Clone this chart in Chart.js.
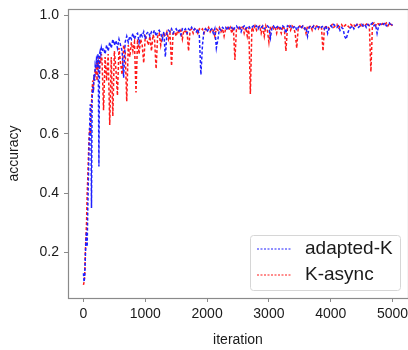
<!DOCTYPE html>
<html>
<head>
<meta charset="utf-8">
<script src="https://cdn.jsdelivr.net/npm/chart.js@4/dist/chart.umd.min.js"></script>
<style>
  html, body { margin: 0; padding: 0; background: #fff; }
  #wrap { width: 408px; height: 350px; }
</style>
</head>
<body>
<div id="wrap"><canvas id="chart"></canvas></div>
<script>
// Accuracy vs iteration

const iterations = [
    0, 10, 20, 30, 40, 50, 60, 70, 80, 90, 100, 110, 120, 130, 140, 150, 160, 170, 180, 190, 200, 210, 220, 230, 240, 250, 260, 270, 280, 290, 300,
    325, 350, 375, 400, 425, 450, 475, 500, 525, 550, 575, 600, 625, 650, 675, 700, 725, 750, 775, 800,
    825, 850, 875, 900, 925, 950, 975, 1000, 1025, 1050, 1075, 1100, 1125, 1150, 1175, 1200, 1225, 1250, 1275, 1300,
    1325, 1350, 1375, 1400, 1425, 1450, 1475, 1500, 1525, 1550, 1575, 1600, 1625, 1650, 1675, 1700, 1725, 1750, 1775, 1800,
    1825, 1850, 1875, 1900, 1925, 1950, 1975, 2000, 2025, 2050, 2075, 2100, 2125, 2150, 2175, 2200, 2225, 2250, 2275, 2300,
    2325, 2350, 2375, 2400, 2425, 2450, 2475, 2500, 2525, 2550, 2575, 2600, 2625, 2650, 2675, 2700, 2725, 2750, 2775, 2800,
    2825, 2850, 2875, 2900, 2925, 2950, 2975, 3000, 3025, 3050, 3075, 3100, 3125, 3150, 3175, 3200, 3225, 3250, 3275, 3300,
    3325, 3350, 3375, 3400, 3425, 3450, 3475, 3500, 3525, 3550, 3575, 3600, 3625, 3650, 3675, 3700, 3725, 3750, 3775, 3800,
    3825, 3850, 3875, 3900, 3925, 3950, 3975, 4000, 4025, 4050, 4075, 4100, 4125, 4150, 4175, 4200, 4225, 4250, 4275, 4300,
    4325, 4350, 4375, 4400, 4425, 4450, 4475, 4500, 4525, 4550, 4575, 4600, 4625, 4650, 4675, 4700, 4725, 4750, 4775, 4800,
    4825, 4850, 4875, 4900, 4925, 4950, 4975, 5000
];

const adaptedK = [
    0.13, 0.10, 0.12, 0.18, 0.24, 0.27, 0.22, 0.35, 0.45, 0.55, 0.62, 0.70, 0.66, 0.35, 0.72, 0.76, 0.74, 0.80, 0.78, 0.83, 0.82, 0.85, 0.84, 0.87, 0.86, 0.49, 0.87, 0.88, 0.87, 0.89, 0.88,
    0.89, 0.87, 0.90, 0.88, 0.91, 0.89, 0.92, 0.90, 0.915, 0.89, 0.92, 0.90, 0.88, 0.79, 0.91, 0.93, 0.91, 0.93, 0.92, 0.94,
    0.92, 0.935, 0.94, 0.91, 0.94, 0.93, 0.945, 0.92, 0.94, 0.945, 0.93, 0.945, 0.94, 0.95, 0.93, 0.945, 0.95, 0.94, 0.92, 0.945,
    0.86, 0.94, 0.95, 0.945, 0.955, 0.94, 0.95, 0.955, 0.945, 0.95, 0.935, 0.955, 0.95, 0.955, 0.94, 0.955, 0.95, 0.96, 0.95, 0.955,
    0.945, 0.955, 0.93, 0.80, 0.90, 0.95, 0.955, 0.945, 0.955, 0.95, 0.955, 0.94, 0.955, 0.89, 0.92, 0.955, 0.95, 0.96, 0.955, 0.96,
    0.95, 0.96, 0.955, 0.96, 0.95, 0.96, 0.965, 0.955, 0.96, 0.945, 0.96, 0.965, 0.955, 0.96, 0.965, 0.955, 0.96, 0.965, 0.96, 0.965,
    0.955, 0.965, 0.96, 0.965, 0.955, 0.96, 0.965, 0.96, 0.925, 0.96, 0.965, 0.955, 0.96, 0.965, 0.96, 0.955, 0.965, 0.96, 0.94, 0.965,
    0.96, 0.965, 0.955, 0.96, 0.965, 0.95, 0.96, 0.965, 0.96, 0.965, 0.955, 0.96, 0.93, 0.96, 0.965, 0.96, 0.965, 0.955, 0.965, 0.96,
    0.965, 0.96, 0.965, 0.955, 0.965, 0.94, 0.96, 0.965, 0.96, 0.97, 0.965, 0.96, 0.965, 0.95, 0.96, 0.955, 0.93, 0.92, 0.94, 0.955,
    0.96, 0.965, 0.955, 0.965, 0.97, 0.96, 0.965, 0.97, 0.965, 0.97, 0.96, 0.97, 0.965, 0.97, 0.975, 0.965, 0.97, 0.94, 0.965, 0.97,
    0.975, 0.97, 0.975, 0.965, 0.97, 0.975, 0.965, 0.97
];

const kAsync = [
    0.09, 0.10, 0.12, 0.20, 0.25, 0.30, 0.40, 0.45, 0.52, 0.58, 0.62, 0.60, 0.66, 0.70, 0.75, 0.78, 0.74, 0.80, 0.78, 0.82, 0.80, 0.84, 0.78, 0.85, 0.82, 0.86, 0.80, 0.86, 0.84, 0.87, 0.85,
    0.68, 0.86, 0.78, 0.87, 0.63, 0.86, 0.66, 0.88, 0.82, 0.73, 0.89, 0.84, 0.80, 0.90, 0.88, 0.71, 0.90, 0.86, 0.91, 0.88,
    0.91, 0.74, 0.92, 0.87, 0.92, 0.90, 0.84, 0.93, 0.92, 0.90, 0.93, 0.88, 0.935, 0.92, 0.82, 0.93, 0.94, 0.90, 0.935, 0.94,
    0.93, 0.945, 0.92, 0.94, 0.83, 0.94, 0.945, 0.93, 0.95, 0.94, 0.95, 0.92, 0.95, 0.945, 0.95, 0.88, 0.95, 0.955, 0.94, 0.955,
    0.95, 0.94, 0.955, 0.95, 0.955, 0.94, 0.955, 0.95, 0.96, 0.945, 0.955, 0.95, 0.93, 0.955, 0.95, 0.96, 0.945, 0.955, 0.93, 0.955,
    0.96, 0.95, 0.96, 0.94, 0.96, 0.85, 0.955, 0.96, 0.95, 0.96, 0.965, 0.94, 0.96, 0.93, 0.96, 0.735, 0.96, 0.95, 0.965, 0.95,
    0.96, 0.965, 0.94, 0.96, 0.93, 0.965, 0.95, 0.91, 0.96, 0.965, 0.955, 0.96, 0.94, 0.965, 0.955, 0.94, 0.965, 0.955, 0.88, 0.96,
    0.965, 0.95, 0.965, 0.96, 0.94, 0.89, 0.96, 0.965, 0.955, 0.965, 0.96, 0.94, 0.965, 0.96, 0.965, 0.95, 0.965, 0.96, 0.965, 0.955,
    0.965, 0.96, 0.88, 0.965, 0.96, 0.965, 0.955, 0.965, 0.97, 0.96, 0.965, 0.97, 0.955, 0.965, 0.97, 0.96, 0.965, 0.97, 0.965, 0.96,
    0.97, 0.965, 0.97, 0.96, 0.97, 0.965, 0.97, 0.96, 0.97, 0.965, 0.97, 0.975, 0.965, 0.81, 0.97, 0.975, 0.965, 0.975, 0.97, 0.975,
    0.97, 0.975, 0.97, 0.975, 0.965, 0.975, 0.97, 0.965
];

const xTicks = [0, 1000, 2000, 3000, 4000, 5000];
const yTicks = [0.2, 0.4, 0.6, 0.8, 1.0];

const seriesNames = ['adapted-K', 'K-async'];
const seriesColors = ['#2020ff', '#ff1a1a'];

const FONT = 'Arial, "Liberation Sans", sans-serif';
const SPINE = '#8a8a8a';

const toPoints = (ys) => iterations.map((x, i) => ({ x: x, y: ys[i] }));

// frame round the plot area (matplotlib spines)
const framePlugin = {
    id: 'frame',
    afterDraw(chart) {
        const a = chart.chartArea;
        const ctx = chart.ctx;
        ctx.save();
        ctx.strokeStyle = SPINE;
        ctx.lineWidth = 1.2;
        ctx.strokeRect(a.left + 0.5, a.top + 0.5, a.right - a.left, a.bottom - a.top);
        ctx.restore();
    }
};

// legend box in lower right corner
const legendPlugin = {
    id: 'boxLegend',
    afterDraw(chart) {
        const ctx = chart.ctx;
        const x = 250, y = 235, w = 150, h = 55;
        ctx.save();
        ctx.fillStyle = 'rgba(255,255,255,0.85)';
        ctx.strokeStyle = '#d6d6d6';
        ctx.lineWidth = 1;
        ctx.beginPath();
        ctx.roundRect(x + 0.5, y + 0.5, w, h, 3);
        ctx.fill();
        ctx.stroke();
        ctx.font = '19px ' + FONT;
        ctx.textBaseline = 'middle';
        chart.data.datasets.forEach((ds, i) => {
            const cy = y + 14 + i * 26;
            ctx.strokeStyle = ds.borderColor;
            ctx.lineWidth = 1.2;
            ctx.setLineDash([2, 1.5]);
            ctx.beginPath();
            ctx.moveTo(257, cy);
            ctx.lineTo(291, cy);
            ctx.stroke();
            ctx.setLineDash([]);
            ctx.fillStyle = '#1a1a1a';
            ctx.fillText(ds.label, 305, cy);
        });
        ctx.restore();
    }
};

const datasets = [adaptedK, kAsync].map((ys, i) => ({
    label: seriesNames[i],
    data: toPoints(ys),
    borderColor: seriesColors[i],
    borderWidth: 1.5,
    borderDash: [3, 2],
    pointRadius: 0,
    tension: 0,
    fill: false
}));

new Chart(document.getElementById('chart'), {
    type: 'line',
    data: { datasets: datasets },
    options: {
        responsive: true,
        maintainAspectRatio: false,
        animation: false,
        layout: { padding: { top: 9, right: 0, left: 0, bottom: 0 } },
        plugins: {
            legend: { display: false },
            tooltip: { enabled: false }
        },
        scales: {
            x: {
                type: 'linear',
                min: -250,
                max: 5250,
                afterBuildTicks: (s) => { s.ticks = xTicks.map(v => ({ value: v })); },
                afterFit: (s) => { s.height = 52; s.paddingLeft = 0; s.paddingRight = 0; },
                grid: { drawOnChartArea: false, drawTicks: true, tickLength: 4, color: SPINE },
                border: { display: false },
                ticks: {
                    color: '#1a1a1a', font: { family: FONT, size: 14 }, padding: 4, maxRotation: 0,
                    callback: (v) => String(v)
                },
                title: {
                    display: true, text: 'iteration', color: '#1a1a1a',
                    font: { family: FONT, size: 14 }, padding: { top: 0, bottom: 1 }
                }
            },
            y: {
                min: 0.046,
                max: 1.022,
                afterBuildTicks: (s) => { s.ticks = yTicks.map(v => ({ value: v })); },
                afterFit: (s) => { s.width = 68; s.paddingTop = 0; s.paddingBottom = 0; },
                grid: { drawOnChartArea: false, drawTicks: true, tickLength: 4, color: SPINE },
                border: { display: false },
                ticks: {
                    color: '#1a1a1a', font: { family: FONT, size: 14 }, padding: 5,
                    callback: (v) => v.toFixed(1)
                },
                title: {
                    display: true, text: 'accuracy', color: '#1a1a1a',
                    font: { family: FONT, size: 14 }, padding: { top: 6, bottom: 0 }
                }
            }
        }
    },
    plugins: [framePlugin, legendPlugin]
});
</script>
</body>
</html>
